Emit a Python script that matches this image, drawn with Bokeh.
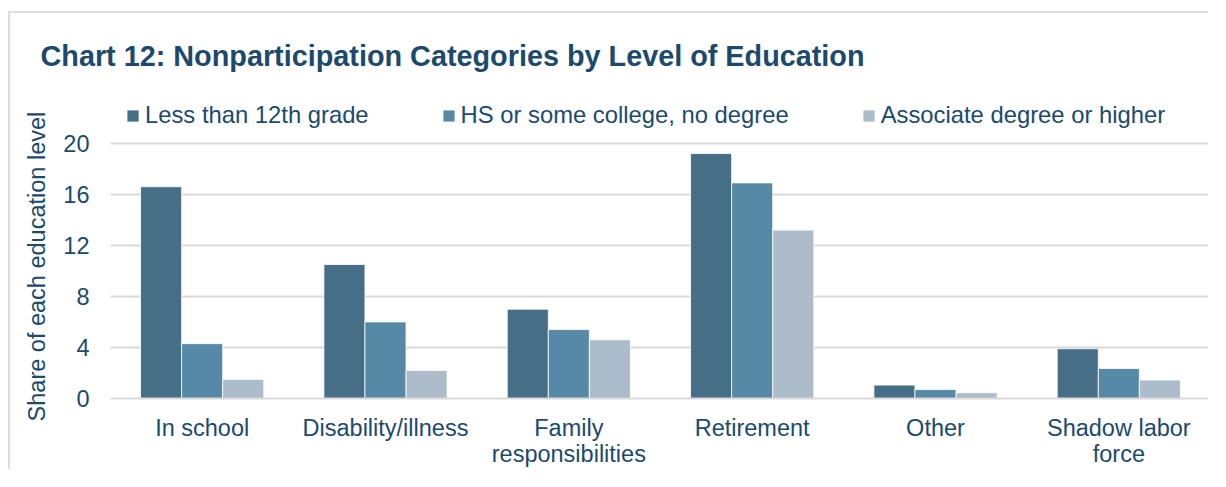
from bokeh.plotting import figure
from bokeh.models import Range1d, FixedTicker, Legend, LegendItem, ColumnDataSource, LinearAxis
from bokeh.embed import file_html
from bokeh.resources import INLINE

categories = ["In school", "Disability/illness", "Family\nresponsibilities",
              "Retirement", "Other", "Shadow labor\nforce"]
series_names = ["Less than 12th grade", "HS or some college, no degree",
                "Associate degree or higher"]
less_than_12th = [16.6, 10.5, 7.0, 19.2, 1.05, 3.9]
hs_some_college = [4.3, 6.0, 5.4, 16.9, 0.7, 2.35]
associate_plus = [1.5, 2.2, 4.6, 13.2, 0.45, 1.45]
y_ticks = [0, 4, 8, 12, 16, 20]
chart_title = "Chart 12: Nonparticipation Categories by Level of Education"
y_label = "Share of each education level"

colors = ["#466e87", "#5689a5", "#adbccb"]
text_color = "#1b4a6c"
font = "Liberation Sans"

idx = list(range(len(categories)))
first_lines = [c.split("\n")[0] for c in categories]
second_lines = [c.split("\n")[1] if "\n" in c else " " for c in categories]
series_vals = [less_than_12th, hs_some_college, associate_plus]

p = figure(x_range=Range1d(-0.5, len(categories) - 0.5),
           y_range=Range1d(0, 23.75),
           width=1200, height=458, output_backend="svg", toolbar_location=None,
           min_border_left=100, min_border_right=0, min_border_bottom=73,
           min_border_top=82)
p.styles = {"border-top": "2px solid #dcdcdc", "border-left": "2px solid #dcdcdc",
            "margin-left": "8px", "margin-top": "11px"}

bw = 0.224
renderers = []
for i, (vals, off) in enumerate(zip(series_vals, [-bw, 0, bw])):
    src = ColumnDataSource(data=dict(x=[v + off for v in idx], top=vals))
    r = p.vbar(x="x", top="top", width=bw, source=src,
               fill_color=colors[i], line_color="white", line_width=0.8)
    renderers.append(r)

legend = Legend(items=[LegendItem(label=n, renderers=[r]) for n, r in zip(series_names, renderers)],
                orientation="horizontal", location=(15, 269))
legend.label_text_font = font
legend.label_text_font_size = "23.8px"
legend.label_text_color = text_color
legend.glyph_width = 15
legend.glyph_height = 15
legend.label_standoff = 5
legend.spacing = 72
legend.padding = 0
legend.margin = 0
legend.border_line_color = None
legend.background_fill_alpha = 0
p.add_layout(legend)

p.title.text = chart_title
p.title.align = "left"
p.title.offset = -70
p.title.standoff = 48
p.title.text_font = font
p.title.text_font_size = "28.8px"
p.title.text_font_style = "bold"
p.title.text_color = text_color

p.yaxis.ticker = FixedTicker(ticks=y_ticks)
p.yaxis.axis_line_color = None
p.yaxis.major_tick_line_color = None
p.yaxis.minor_tick_line_color = None
p.yaxis.major_tick_out = 0
p.yaxis.major_label_standoff = 21
p.yaxis.major_label_text_font = font
p.yaxis.major_label_text_font_size = "23.5px"
p.yaxis.major_label_text_color = text_color
p.yaxis.axis_label = y_label + "\u00a0" * 6
p.yaxis.axis_label_text_font = font
p.yaxis.axis_label_text_font_size = "23.5px"
p.yaxis.axis_label_text_font_style = "normal"
p.yaxis.axis_label_text_color = text_color
p.yaxis.axis_label_standoff = 10

def style_x(ax, labels, standoff):
    ax.ticker = FixedTicker(ticks=idx)
    ax.major_label_overrides = {i: c for i, c in zip(idx, labels)}
    ax.major_tick_line_color = None
    ax.minor_tick_line_color = None
    ax.major_tick_out = 0
    ax.major_tick_in = 0
    ax.major_label_standoff = standoff
    ax.major_label_text_font = font
    ax.major_label_text_font_size = "23.5px"
    ax.major_label_text_color = text_color

style_x(p.xaxis[0], first_lines, 16)
p.xaxis[0].axis_line_color = "#d9d9d9"
p.xaxis[0].axis_line_width = 2

ax2 = LinearAxis()
style_x(ax2, second_lines, -3)
ax2.axis_line_color = None
p.add_layout(ax2, "below")

p.xgrid.grid_line_color = None
p.ygrid.grid_line_color = "#d9d9d9"
p.ygrid.grid_line_width = 2
p.outline_line_color = None

open("out.html", "w").write(file_html(p, INLINE))
